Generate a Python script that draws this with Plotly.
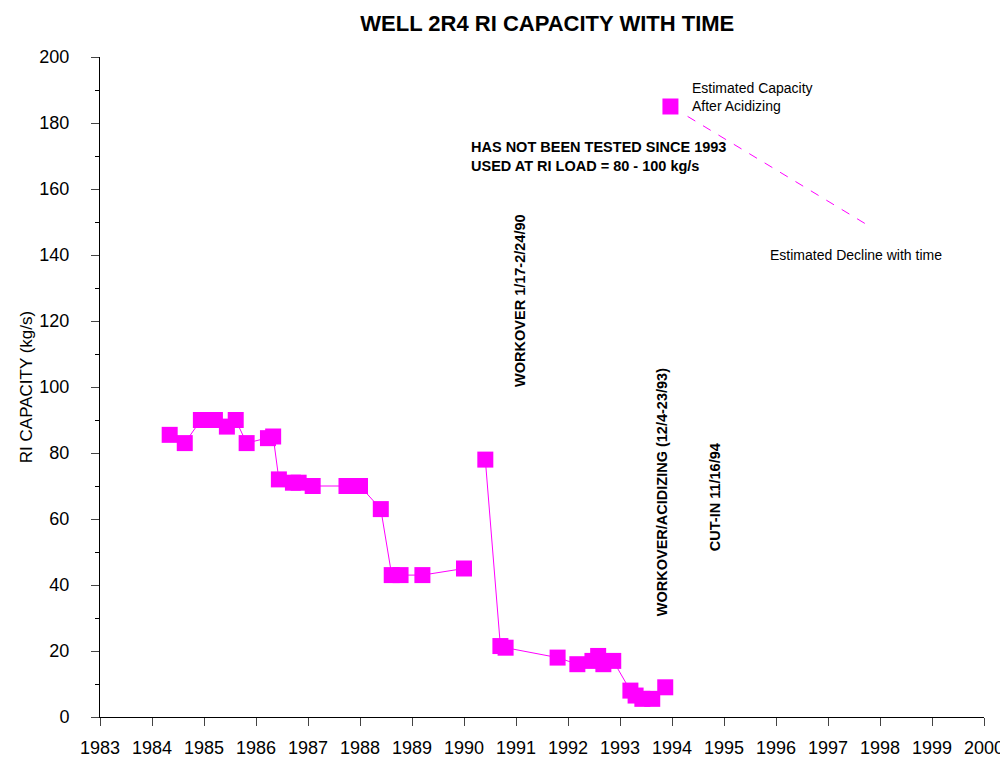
import plotly.graph_objects as go

years = [1984.34, 1984.63, 1984.94, 1985.21, 1985.44, 1985.61, 1985.82, 1986.23, 1986.33,
         1986.44, 1986.71, 1986.82, 1987.09, 1987.74, 1988.0, 1988.4, 1988.61, 1988.78,
         1989.2, 1990.0, None, 1990.41, 1990.7, 1990.8, 1991.8, 1992.18, 1992.47, 1992.58,
         1992.68, 1992.87, 1993.2, 1993.3, 1993.43, 1993.62, 1993.87]
capacity = [85.5, 83, 90, 90, 88, 90, 83, 84.5, 85, 72, 71, 71, 70, 70, 70, 63, 43, 43,
            43, 45, None, 78, 21.5, 21, 18, 16, 17, 18.5, 16, 17, 8, 6.5, 5.5, 5.5, 9]
est_x = [1993.97]
est_y = [185]
decline_x = [1994.3, 1997.8]
decline_y = [182, 148.7]

mag = "#ff00ff"
fig = go.Figure()
fig.add_trace(go.Scatter(x=years, y=capacity, mode="lines+markers", connectgaps=False,
                         line=dict(color=mag, width=1),
                         marker=dict(symbol="square", size=16, color=mag)))
fig.add_trace(go.Scatter(x=est_x, y=est_y, mode="markers",
                         marker=dict(symbol="square", size=16, color=mag)))
fig.add_trace(go.Scatter(x=decline_x, y=decline_y, mode="lines",
                         line=dict(color=mag, width=1, dash="dash")))

f = dict(family="Arial, Liberation Sans", color="black")
def txt(x, y, s, size=14, bold=False, angle=0, anchor="left"):
    fig.add_annotation(x=x, y=y, text=f"<b>{s}</b>" if bold else s, showarrow=False,
                       textangle=angle, xanchor=anchor, align="left", font=dict(size=size, **f))

txt(1994.35, 188, "Estimated Capacity<br>After Acidizing", 14)
txt(1990.1, 170, "HAS NOT BEEN TESTED SINCE 1993<br>USED AT RI LOAD = 80 - 100 kg/s", 14.5, True)
txt(1995.85, 140, "Estimated Decline with time", 14)
txt(1991.09, 126, "WORKOVER 1/17-2/24/90", 14.5, True, -90, "center")
txt(1993.8, 68, "WORKOVER/ACIDIZING (12/4-23/93)", 14.5, True, -90, "center")
txt(1994.82, 66.5, "CUT-IN 11/16/94", 14.5, True, -90, "center")

fig.update_layout(
    width=1008, height=771, showlegend=False, plot_bgcolor="white", paper_bgcolor="white",
    margin=dict(l=92, r=23, t=49, b=62),
    title=dict(text="<b>WELL 2R4 RI CAPACITY WITH TIME</b>", x=0.535, xanchor="center",
               y=0.99, font=dict(size=22, **f)),
    font=dict(size=18, **f),
    xaxis=dict(range=[1983, 2000], dtick=1, tick0=1983, showgrid=False, zeroline=False,
               showline=True, linecolor="black", ticks="outside", ticklen=8,
               ticklabelstandoff=6),
    yaxis=dict(range=[0, 200], dtick=20, showgrid=False, zeroline=False,
               showline=True, linecolor="black", ticks="outside", ticklen=8,
               ticklabelstandoff=18,
               minor=dict(dtick=10, ticks="outside", ticklen=4, tickcolor="black"),
               title=dict(text="RI CAPACITY (kg/s)", font=dict(size=17, **f), standoff=2)),
)
fig.write_html("out.html")
